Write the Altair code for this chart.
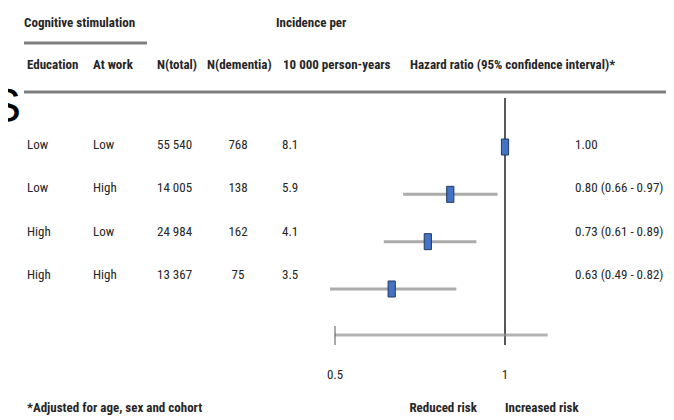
import altair as alt
import pandas as pd

# ---- data ----
education = ["Low", "Low", "High", "High"]
at_work = ["Low", "High", "Low", "High"]
n_total = ["55 540", "14 005", "24 984", "13 367"]
n_dementia = [768, 138, 162, 75]
incidence = ["8.1", "5.9", "4.1", "3.5"]
hr = [1.00, 0.80, 0.73, 0.63]
ci_low = [None, 0.66, 0.61, 0.49]
ci_high = [None, 0.97, 0.89, 0.82]
axis_ticks = [0.5, 1]
axis_extent = [0.5, 1.19]

def hr_text(h, lo, hi):
    if lo is None:
        return f"{h:.2f}"
    return f"{h:.2f} ({lo:.2f} - {hi:.2f})"

rows = pd.DataFrame({
    "row": list(range(4)),
    "education": education,
    "work": at_work,
    "ntotal": n_total,
    "ndem": [str(v) for v in n_dementia],
    "inc": incidence,
    "hr": hr,
    "lo": ci_low,
    "hi": ci_high,
    "label": [hr_text(h, l, u) for h, l, u in zip(hr, ci_low, ci_high)],
})
ci = rows.dropna(subset=["lo"])
ticks = pd.DataFrame({"t": axis_ticks, "lab": ["0.5", "1"]})
ext = pd.DataFrame({"a": [axis_extent[0]], "b": [axis_extent[1]]})

FONT = "Roboto Condensed"
TXT = "#262626"
FS = 13

xs = alt.Scale(type="log", domain=[0.5, 1], range=[327, 497])
ys_text = alt.Scale(domain=[0, 3], range=[137, 267])
ys_mark = alt.Scale(domain=[0, 3], range=[139, 281])

base_rows = alt.Chart(rows)


def col(field, x, align="left"):
    return base_rows.mark_text(font=FONT, fontSize=FS, color=TXT, align=align,
                               baseline="middle").encode(
        x=alt.value(x),
        y=alt.Y("row:Q", scale=ys_text, axis=None),
        text=f"{field}:N",
    )


def label(txt, x, y, bold=True, align="left", size=FS):
    return alt.Chart(pd.DataFrame({"t": [txt]})).mark_text(
        font=FONT, fontSize=size, fontWeight="bold" if bold else "normal",
        color=TXT, align=align, baseline="middle").encode(
        x=alt.value(x), y=alt.value(y), text="t:N")


HY = 57
headers = [
    label("Cognitive stimulation", 16, 15),
    label("Incidence per", 268, 15),
    label("Education", 19, HY),
    label("At work", 85, HY),
    label("N(total)", 149, HY),
    label("N(dementia)", 199, HY),
    label("10 000 person-years", 275, HY),
    label("Hazard ratio (95% confidence interval)*", 402, HY),
    label("*Adjusted for age, sex and cohort", 19, 400),
    label("Reduced risk", 469, 400, align="right"),
    label("Increased risk", 497, 400),
]

big_s = alt.Chart(pd.DataFrame({"t": ["S"]})).mark_text(
    font="Liberation Sans", fontSize=48, color="#000000", align="right",
    baseline="alphabetic").encode(x=alt.value(13), y=alt.value(114), text="t:N")

rule_top = alt.Chart(pd.DataFrame({"a": [0]})).mark_rule(
    color="#7f7f7f", strokeWidth=3).encode(
    x=alt.value(16), x2=alt.value(139), y=alt.value(35))
rule_main = alt.Chart(pd.DataFrame({"a": [0]})).mark_rule(
    color="#7f7f7f", strokeWidth=3).encode(
    x=alt.value(16), x2=alt.value(666), y=alt.value(84))

cols = [
    col("education", 19),
    col("work", 85),
    col("ntotal", 149),
    col("ndem", 230, align="center"),
    col("inc", 274),
    col("label", 567),
]

ci_lines = alt.Chart(ci).mark_rule(color="#ababab", strokeWidth=3).encode(
    x=alt.X("lo:Q", scale=xs, axis=None),
    x2="hi:Q",
    y=alt.Y("row:Q", scale=ys_mark, axis=None),
)

ref_line = alt.Chart(pd.DataFrame({"v": [1.0]})).mark_rule(
    color="#222222", strokeWidth=1.5).encode(
    x=alt.X("v:Q", scale=xs, axis=None), y=alt.value(90), y2=alt.value(337))

axis_line = alt.Chart(ext).mark_rule(color="#b3b3b3", strokeWidth=3).encode(
    x=alt.X("a:Q", scale=xs, axis=None), x2="b:Q", y=alt.value(327))

tick_marks = alt.Chart(ticks).mark_rule(color="#555555", strokeWidth=1).encode(
    x=alt.X("t:Q", scale=xs, axis=None), y=alt.value(318), y2=alt.value(337))

tick_labels = alt.Chart(ticks).mark_text(font=FONT, fontSize=FS, color=TXT,
                                         baseline="middle").encode(
    x=alt.X("t:Q", scale=xs, axis=None), y=alt.value(367), text="lab:N")

markers = alt.Chart(rows).mark_point(
    shape="M-0.45,-1L0.45,-1L0.45,1L-0.45,1Z", size=256, filled=True,
    fill="#4472c4", stroke="#1f3864", strokeWidth=1, opacity=1).encode(
    x=alt.X("hr:Q", scale=xs, axis=None),
    y=alt.Y("row:Q", scale=ys_mark, axis=None),
)

chart = alt.layer(
    rule_top, rule_main, big_s, *headers, *cols,
    ci_lines, ref_line, axis_line, tick_marks, tick_labels, markers,
).resolve_scale(y="independent").properties(
    width=658, height=408, padding=0, autosize="none",
    background="white",
).configure_view(stroke=None)

chart.save("out.html", embed_options={"renderer": "svg", "actions": False})
